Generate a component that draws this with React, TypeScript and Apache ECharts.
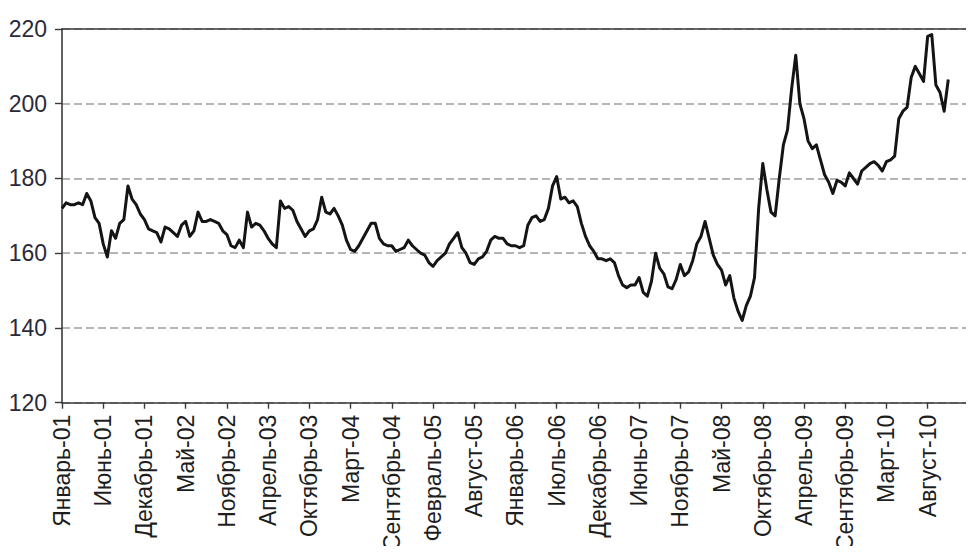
import React, { useEffect, useRef } from "react";
import * as echarts from "echarts";

// Tick labels, one every 10 points (each point ~ 12 trading days)
const tickLabels = [
  "Январь-01", "Июнь-01", "Декабрь-01", "Май-02", "Ноябрь-02", "Апрель-03",
  "Октябрь-03", "Март-04", "Сентябрь-04", "Февраль-05", "Август-05", "Январь-06",
  "Июль-06", "Декабрь-06", "Июнь-07", "Ноябрь-07", "Май-08", "Октябрь-08",
  "Апрель-09", "Сентябрь-09", "Март-10", "Август-10",
];

const values2001_2002 = [
  172, 173.5, 173, 173, 173.5, 173, 176, 174, 169.5, 168,
  162.5, 159, 166, 164, 168, 169, 178, 174.5, 173, 170.5,
  169, 166.5, 166, 165.5, 163, 167, 166.5, 165.5, 164.5, 167.5,
  168.5, 164.5, 166, 171, 168.5, 168.5, 169, 168.5, 168, 166,
];
const values2003_2004 = [
  165, 162, 161.5, 163.5, 161.5, 171, 167, 168, 167.5, 166,
  164, 162.5, 161.5, 174, 172, 172.5, 171.5, 168.5, 166.5, 164.5,
  166, 166.5, 169, 175, 171, 170.5, 172, 170, 167.5, 163.5,
  161, 160.5, 162, 164, 166, 168, 168, 164, 162.5, 162,
];
const values2005_2006 = [
  162, 160.5, 161, 161.5, 163.5, 162, 161, 160, 159.5, 157.5,
  156.5, 158, 159, 160, 162.5, 164, 165.5, 161.5, 160, 157.5,
  157, 158.5, 159, 160.5, 163.5, 164.5, 164, 164, 162.5, 162,
  162, 161.5, 162, 167.5, 169.5, 170, 168.5, 169, 172, 178,
];
const values2006_2008 = [
  180.5, 174.5, 175, 173.5, 174, 172.5, 168, 164.5, 162, 160.5,
  158.5, 158.5, 158, 158.5, 157.5, 154, 151.5, 150.8, 151.5, 151.5,
  153.5, 149.5, 148.5, 152.5, 160, 156, 154.5, 151, 150.5, 153,
  157, 154, 155, 158, 162.5, 164.5, 168.5, 164, 159.5, 157,
];
const values2008_2010 = [
  155.5, 151.5, 154, 148, 144.5, 142, 146, 148.5, 153.5, 172,
  184, 177, 171, 170, 180, 189, 193, 204, 213, 200,
  196, 190, 188, 189, 185, 181, 179, 176, 179.5, 179,
  178, 181.5, 180, 178.5, 182, 183, 184, 184.5, 183.5, 182,
  184.5, 185, 186, 196, 198, 199, 207, 210, 208, 206,
  218, 218.5, 205, 203, 198, 206.5,
];

const values = [
  ...values2001_2002,
  ...values2003_2004,
  ...values2005_2006,
  ...values2006_2008,
  ...values2008_2010,
];

const TOTAL_SLOTS = 222;
const categories = Array.from({ length: TOTAL_SLOTS }, (_, i) => String(i));
const seriesData = categories.map((_, i) => (i < values.length ? values[i] : null));

export default function App() {
  const ref = useRef<HTMLDivElement>(null);

  useEffect(() => {
    if (!ref.current) return;
    const chart = echarts.init(ref.current, null, { renderer: "svg" });
    const axisColor = "#3a3a3a";
    chart.setOption({
      animation: false,
      backgroundColor: "#ffffff",
      grid: { left: 62, right: 1, top: 29, bottom: 147, containLabel: false },
      xAxis: [
        {
          type: "category",
          data: categories,
          boundaryGap: false,
          axisLine: { show: true, lineStyle: { color: axisColor, width: 1.6 } },
          axisTick: {
            show: true,
            interval: (i: number) => i % 10 === 0,
            length: 6,
            lineStyle: { color: axisColor, width: 1.4 },
          },
          axisLabel: {
            interval: (i: number) => i % 10 === 0 && i / 10 < tickLabels.length,
            rotate: 90,
            margin: 12,
            fontFamily: "Liberation Sans, Arial, sans-serif",
            fontSize: 23,
            color: "#1e1e1e",
            formatter: (_v: string, i: number) => tickLabels[i / 10] ?? "",
          },
          splitLine: { show: false },
        },
        {
          type: "category",
          position: "top",
          data: categories,
          boundaryGap: false,
          axisLine: { show: true, lineStyle: { color: axisColor, width: 1.6 } },
          axisTick: { show: false },
          axisLabel: { show: false },
          splitLine: { show: false },
        },
      ],
      yAxis: {
        type: "value",
        min: 120,
        max: 220,
        interval: 20,
        axisLine: { show: true, lineStyle: { color: axisColor, width: 1.6 } },
        axisTick: { show: true, length: 7, lineStyle: { color: axisColor, width: 1.4 } },
        axisLabel: {
          margin: 15,
          fontFamily: "Liberation Sans, Arial, sans-serif",
          fontSize: 23,
          color: "#2a2a3a",
        },
        splitLine: {
          show: true,
          lineStyle: { color: "#9d9d9d", width: 1.6, type: [8, 4] },
        },
      },
      series: [
        {
          type: "line",
          data: seriesData,
          xAxisIndex: 0,
          showSymbol: false,
          symbol: "none",
          connectNulls: false,
          lineStyle: { color: "#141414", width: 3, join: "round" },
          z: 3,
        },
      ],
    });
    return () => chart.dispose();
  }, []);

  return <div ref={ref} style={{ width: 974, height: 554, margin: -8 }} />;
}
